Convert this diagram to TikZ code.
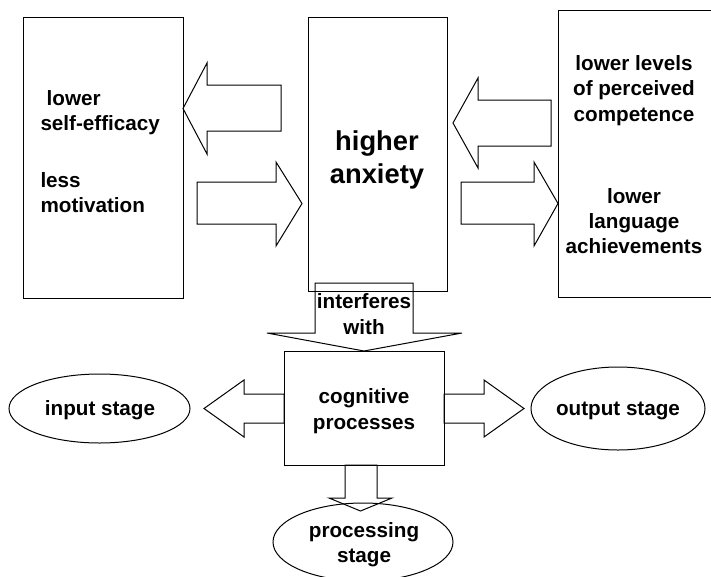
\documentclass[tikz,border=0pt]{standalone}
\usepackage{fontspec}
\setmainfont{Liberation Sans}
\tikzset{every picture/.style={line width=0.75pt}}
\tikzset{
  lbl/.style={inner sep=0.75pt, font=\bfseries\fontsize{15.5}{19}\selectfont, align=center},
  bigLbl/.style={inner sep=0.75pt, font=\bfseries\fontsize{20.5}{25}\selectfont, align=center},
  stageEll/.style={draw}
}
\begin{document}
\begin{tikzpicture}[x=0.75pt,y=0.75pt,yscale=-1,xscale=1]
\useasboundingbox (0,0) rectangle (711,576);
\clip (0,0) rectangle (711,576);

%Shape: Rectangle [left box]
\draw   (23,17) -- (183,17) -- (183,298) -- (23,298) -- cycle ;
%Shape: Rectangle [middle box]
\draw   (308,17) -- (447,17) -- (447,291) -- (308,291) -- cycle ;
%Shape: Rectangle [right box, runs off the page]
\draw   (725,10) -- (558,10) -- (558,297) -- (725,297) ;
%Shape: Rectangle [cognitive box]
\draw   (284,351) -- (444,351) -- (444,465) -- (284,465) -- cycle ;

%Left Arrow
\draw   (183,108.5) -- (207,63) -- (207,85) -- (281,85) -- (281,131) -- (207,131) -- (207,154) -- cycle ;
%Right Arrow
\draw   (197,182) -- (276,182) -- (276,162) -- (302,203.5) -- (276,246) -- (276,224) -- (197,224) -- cycle ;
%Left Arrow
\draw   (453,123) -- (478,78) -- (478,100) -- (551,100) -- (551,146) -- (478,146) -- (478,168) -- cycle ;
%Right Arrow
\draw   (461,182) -- (534,182) -- (534,162) -- (558,203.5) -- (534,246) -- (534,224) -- (461,224) -- cycle ;
%Down Arrow
\draw   (315,283) -- (413,283) -- (413,333) -- (462,333) -- (364,351) -- (267,333) -- (315,333) -- cycle ;
%Left Arrow
\draw   (284,394) -- (244,394) -- (244,380) -- (204,408.5) -- (244,437) -- (244,423) -- (284,423) -- cycle ;
%Right Arrow
\draw   (444,394) -- (484,394) -- (484,380) -- (524,408.5) -- (484,437) -- (484,423) -- (444,423) -- cycle ;
%Down Arrow
\draw   (345,465) -- (377,465) -- (377,498) -- (392,498) -- (360.5,511) -- (329,498) -- (345,498) -- cycle ;

%Shape: Ellipse
\draw [stageEll]  (99.5,408.5) ellipse (90.5 and 34.5) ;
%Shape: Ellipse
\draw [stageEll]  (618,408.5) ellipse (87 and 41.5) ;
%Shape: Ellipse
\draw [stageEll]  (363,542) ellipse (90 and 39) ;

% Text Node
\node (selfEff) [lbl, align=left, anchor=west] at (39,112.5) {\hspace*{0.3em}lower\\self-efficacy};
% Text Node
\node (motiv) [lbl, align=left, anchor=west] at (39,192.5) {less\\motivation};
% Text Node
\node (anx) [bigLbl] at (377,160) {higher\\anxiety};
% Text Node
\node (compet) [lbl] at (634,90.5) {lower levels\\of perceived\\competence};
% Text Node
\node (achiev) [lbl] at (634,221) {lower\\language\\achievements};
% Text Node
\node (interf) [lbl] at (364,314) {interferes\\with};
% Text Node
\node (cogn) [lbl] at (364,411) {cognitive\\processes};
% Text Node
\node (inputSt) [lbl, anchor=base] at (100,415) {input stage};
% Text Node
\node (outputSt) [lbl, anchor=base] at (618,415) {output stage};
% Text Node
\node (procSt) [lbl] at (364,544.5) {processing\\stage};

\end{tikzpicture}
\end{document}
